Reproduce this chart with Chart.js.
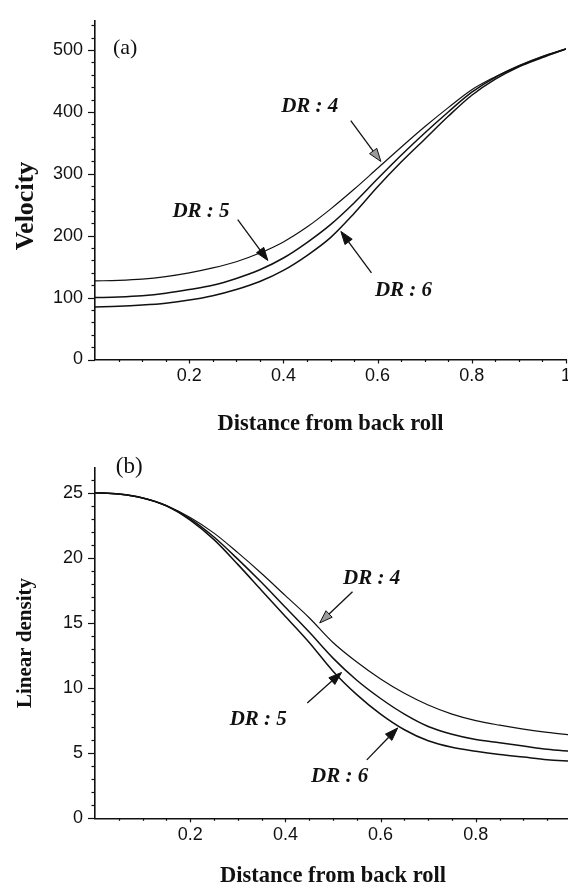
<!DOCTYPE html>
<html>
<head>
<meta charset="utf-8">
<script src="https://cdn.jsdelivr.net/npm/chart.js@4"></script>
<style>
  html, body { margin: 0; padding: 0; background: #fff; overflow: hidden; width: 568px; height: 888px; }
  canvas { position: absolute; left: 0; }
  #graficoA { top: 0; }
  #graficoB { top: 445px; }
</style>
</head>
<body>
<canvas id="graficoA" width="580" height="445"></canvas>
<canvas id="graficoB" width="590" height="445"></canvas>
<script>
// Distancia desde el rodillo trasero (eje x comun)
const distance = [0, 0.05, 0.1, 0.15, 0.2, 0.25, 0.3, 0.35, 0.4, 0.45, 0.5, 0.55, 0.6, 0.65, 0.7, 0.75, 0.8, 0.85, 0.9, 0.95, 1];

// (a) velocidad
const velDR4 = [127, 128, 130, 134, 140, 148, 158, 172, 190, 214, 243, 275, 309, 343, 376, 407, 436, 457, 475, 490, 502];
const velDR5 = [100, 101, 103, 107, 113, 120, 131, 145, 164, 189, 218, 253, 292, 330, 366, 400, 432, 456, 474, 489, 502];
const velDR6 = [85, 86, 88, 91, 96, 103, 113, 126, 144, 168, 197, 236, 279, 319, 356, 393, 427, 453, 473, 488, 502];

// (b) densidad lineal
const denDR4 = [25, 24.9, 24.6, 24.0, 23.1, 21.9, 20.4, 18.8, 17.1, 15.4, 13.5, 12.0, 10.7, 9.6, 8.7, 8.0, 7.5, 7.15, 6.85, 6.6, 6.4];
const denDR5 = [25, 24.9, 24.6, 24.0, 23.0, 21.6, 19.9, 18.1, 16.2, 14.3, 12.3, 10.6, 9.2, 8.0, 7.05, 6.45, 6.05, 5.8, 5.55, 5.3, 5.15];
const denDR6 = [25, 24.9, 24.6, 24.0, 22.9, 21.4, 19.5, 17.5, 15.5, 13.5, 11.3, 9.5, 8.0, 6.8, 5.95, 5.45, 5.15, 4.9, 4.7, 4.5, 4.38];

const velTicks = [0, 100, 200, 300, 400, 500];
const denTicks = [0, 5, 10, 15, 20, 25];

// etiquetas DR con flecha: texto, posicion del texto, inicio y punta de la flecha (en unidades de datos)
const velNotes = [
    { text: 'DR : 4', at: [0.456, 409], from: [0.543, 386], to: [0.607, 320], hollow: true },
    { text: 'DR : 5', at: [0.225, 239], from: [0.303, 226], to: [0.367, 160] },
    { text: 'DR : 6', at: [0.655, 112], from: [0.587, 140], to: [0.522, 207] },
];
const denNotes = [
    { text: 'DR : 4', at: [0.581, 18.4], from: [0.541, 17.4], to: [0.472, 15.0], hollow: true },
    { text: 'DR : 5', at: [0.343, 7.55], from: [0.446, 8.86], to: [0.518, 11.2] },
    { text: 'DR : 6', at: [0.514, 3.18], from: [0.571, 4.49], to: [0.636, 6.94] },
];

const INK = '#111';

// marcas de eje, titulo vertical y anotaciones
const decoracion = {
    id: 'decoracion',
    afterDraw(chart, args, opts) {
        const { ctx, scales: { x, y } } = chart;
        ctx.save();
        ctx.strokeStyle = INK;
        ctx.fillStyle = INK;
        ctx.lineWidth = 1.2;

        // marcas eje y (mayores y menores)
        const ny = Math.round(opts.yTop / opts.yMinor);
        for (let i = 0; i <= ny; i++) {
            const v = i * opts.yMinor;
            const py = Math.round(y.getPixelForValue(v)) + 0.5;
            const major = i % Math.round(opts.yMajor / opts.yMinor) === 0;
            ctx.beginPath();
            ctx.moveTo(x.left - (major ? 7 : 3.5), py);
            ctx.lineTo(x.left, py);
            ctx.stroke();
        }
        // marcas eje x
        for (let i = 1; i <= 20; i++) {
            const px = Math.round(x.getPixelForValue(i * 0.05)) + 0.5;
            const major = i % 4 === 0;
            ctx.beginPath();
            ctx.moveTo(px, y.bottom);
            ctx.lineTo(px, y.bottom + (major ? 4 : 2.5));
            ctx.stroke();
        }

        // titulo eje y
        ctx.save();
        ctx.translate(opts.titleX, opts.titleY);
        ctx.rotate(-Math.PI / 2);
        ctx.font = `bold ${opts.titleSize}px "Liberation Serif"`;
        ctx.textAlign = 'center';
        ctx.textBaseline = 'middle';
        ctx.fillText(opts.title, 0, 0);
        ctx.restore();

        // (a) / (b)
        ctx.font = `${opts.panelSize}px "Liberation Serif"`;
        ctx.textAlign = 'center';
        ctx.textBaseline = 'middle';
        ctx.fillText(opts.panel, x.getPixelForValue(opts.panelAt[0]), y.getPixelForValue(opts.panelAt[1]));

        // anotaciones DR
        opts.notes.forEach(n => {
            ctx.font = 'italic bold 21px "Liberation Serif"';
            ctx.fillStyle = INK;
            ctx.fillText(n.text, x.getPixelForValue(n.at[0]), y.getPixelForValue(n.at[1]));

            const x0 = x.getPixelForValue(n.from[0]), y0 = y.getPixelForValue(n.from[1]);
            const x1 = x.getPixelForValue(n.to[0]), y1 = y.getPixelForValue(n.to[1]);
            const ang = Math.atan2(y1 - y0, x1 - x0);
            const len = 13, half = 4.5;
            const bx = x1 - len * Math.cos(ang), by = y1 - len * Math.sin(ang);
            ctx.lineWidth = 1.3;
            ctx.beginPath();
            ctx.moveTo(x0, y0);
            ctx.lineTo(bx, by);
            ctx.stroke();
            ctx.beginPath();
            ctx.moveTo(x1, y1);
            ctx.lineTo(bx + half * Math.sin(ang), by - half * Math.cos(ang));
            ctx.lineTo(bx - half * Math.sin(ang), by + half * Math.cos(ang));
            ctx.closePath();
            ctx.fillStyle = n.hollow ? '#9a9a9a' : INK;
            ctx.fill();
            ctx.lineWidth = 1;
            ctx.stroke();
        });
        ctx.restore();
    }
};

function serie(values, width) {
    return {
        data: distance.map((d, i) => ({ x: d, y: values[i] })),
        borderColor: INK,
        borderWidth: width,
        pointRadius: 0,
        fill: false,
        cubicInterpolationMode: 'monotone',
    };
}

function crearGrafico(canvasId, cfg) {
    const ctx = document.getElementById(canvasId).getContext('2d');
    return new Chart(ctx, {
        type: 'line',
        data: { datasets: cfg.series },
        plugins: [decoracion],
        options: {
            responsive: false,
            animation: false,
            events: [],
            layout: { padding: cfg.padding },
            plugins: {
                legend: { display: false },
                tooltip: { enabled: false },
                decoracion: cfg.decor,
            },
            scales: {
                x: {
                    type: 'linear',
                    min: 0,
                    max: 1,
                    border: { display: true, color: INK, width: 1.6 },
                    grid: { display: false, drawTicks: true, tickLength: 0 },
                    ticks: {
                        stepSize: 0.2,
                        padding: 8,
                        color: INK,
                        maxRotation: 0,
                        font: { family: 'Liberation Sans', size: 18, lineHeight: 1 },
                        // la grafica (b) esta recortada a la derecha: no se ve el "1"
                        callback: v => (v === 0 || (v === 1 && cfg.hideLast) ? '' : String(Math.round(v * 10) / 10)),
                    },
                    title: {
                        display: true,
                        text: 'Distance from back roll',
                        color: INK,
                        font: { family: 'Liberation Serif', size: 22.5, weight: 'bold', lineHeight: 1.2 },
                        padding: { top: 0, bottom: cfg.xTitlePad },
                    },
                    afterFit: s => { s.height = cfg.xHeight; },
                },
                y: {
                    type: 'linear',
                    min: 0,
                    max: cfg.yMax,
                    border: { display: true, color: INK, width: 1.6 },
                    grid: { display: false, drawTicks: true, tickLength: 0 },
                    ticks: {
                        padding: 12,
                        color: INK,
                        font: { family: 'Liberation Sans', size: 18, lineHeight: 1 },
                    },
                    afterBuildTicks: s => { s.ticks = cfg.yTicks.map(v => ({ value: v })); },
                    afterFit: s => { s.width = 95; },
                },
            },
        },
    });
}

crearGrafico('graficoA', {
    series: [serie(velDR4, 1.2), serie(velDR5, 1.5), serie(velDR6, 1.5)],
    padding: { top: 10, right: 14, bottom: 0, left: 0 },
    xHeight: 85.5,
    xTitlePad: 7.5,
    yMax: 547,
    yTicks: velTicks,
    hideLast: false,
    decor: {
        yTop: 540, yMajor: 100, yMinor: 20,
        title: 'Velocity', titleX: 26, titleY: 206, titleSize: 26,
        panel: '(a)', panelAt: [0.064, 503], panelSize: 22,
        notes: velNotes,
    },
});

crearGrafico('graficoB', {
    series: [serie(denDR4, 1.2), serie(denDR5, 1.5), serie(denDR6, 1.5)],
    padding: { top: 23, right: 19, bottom: 0, left: 0 },
    xHeight: 71.7,
    xTitlePad: 0.5,
    yMax: 26.9,
    yTicks: denTicks,
    hideLast: true,
    decor: {
        yTop: 26, yMajor: 5, yMinor: 1,
        title: 'Linear density', titleX: 26, titleY: 198, titleSize: 21,
        panel: '(b)', panelAt: [0.072, 27.0], panelSize: 23,
        notes: denNotes,
    },
});
</script>
</body>
</html>
